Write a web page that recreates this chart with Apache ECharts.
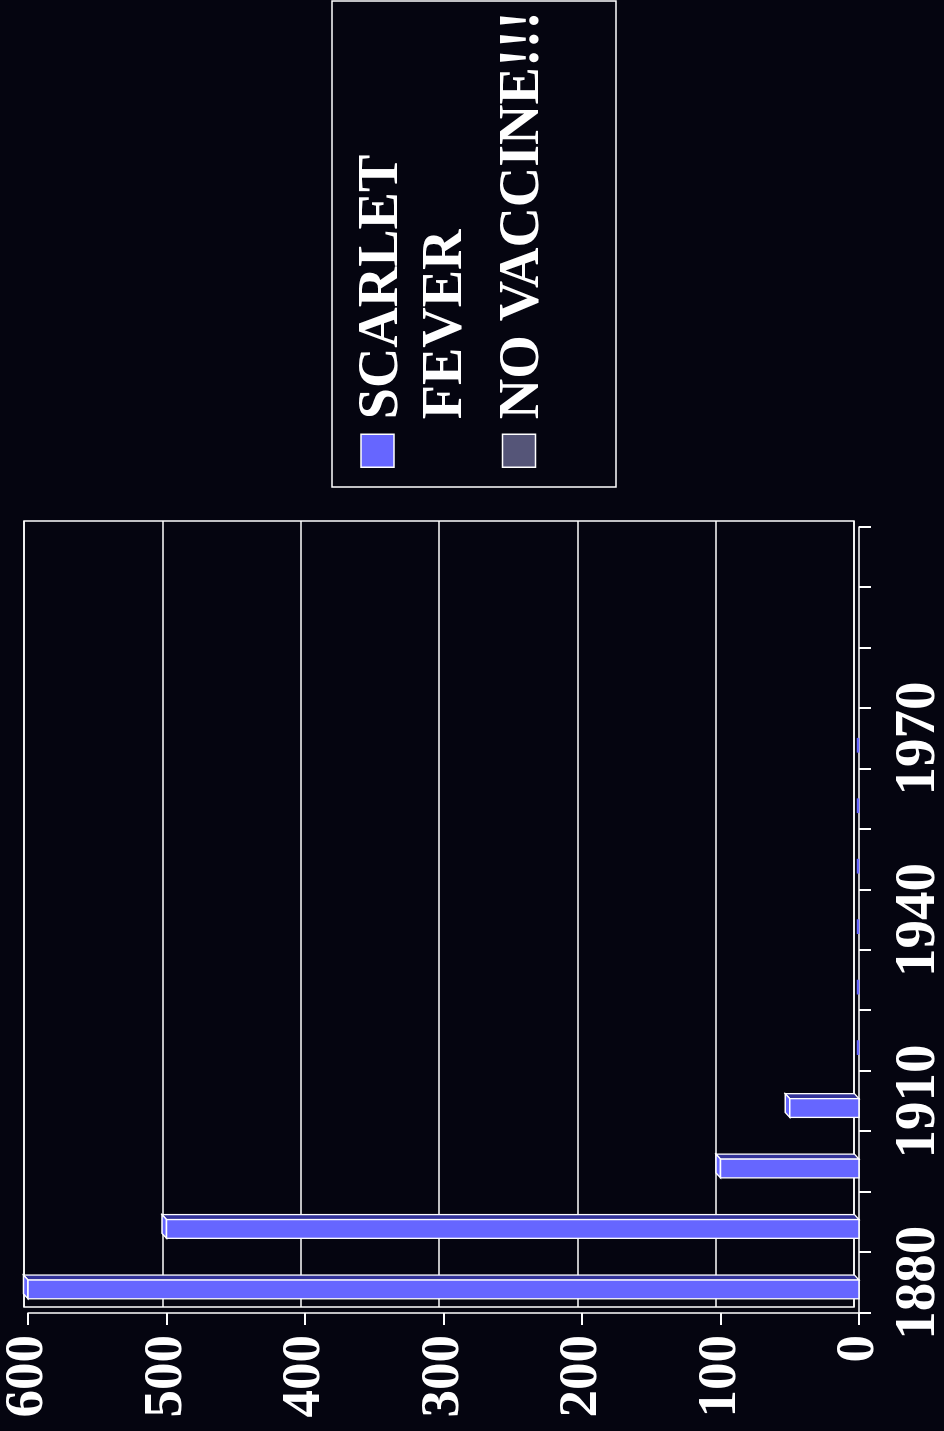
<!DOCTYPE html>
<html>
<head>
<meta charset="utf-8">
<title>Scarlet fever</title>
<script src="https://cdn.jsdelivr.net/npm/echarts@6/dist/echarts.min.js"></script>
<style>
  html, body { margin: 0; padding: 0; width: 944px; height: 1431px; overflow: hidden; background: #050510; }
  /* the chart is laid out landscape and turned a quarter turn to the left */
  #chart {
    position: absolute; left: 0; top: 0;
    width: 1431px; height: 944px;
    transform-origin: 0 0;
    transform: translateY(1431px) rotate(-90deg);
  }
</style>
</head>
<body>
<div id="chart"></div>
<script>
// data
var years = ['1880', '1890', '1900', '1910', '1920', '1930', '1940', '1950', '1960', '1970', '1980', '1990', '2000'];
var yearLabels = ['1880', '', '', '1910', '', '', '1940', '', '', '1970', '', '', ''];
var scarletFever = [600, 500, 100, 50, 0, 0, 0, 0, 0, 0, null, null, null];
var noVaccine = [];

var FONT = '"Liberation Serif", "Times New Roman", serif';
var WHITE = '#ffffff';
var FRONT = '#6666ff';
var SIDE = '#333399';
var DEPTH_X = 5, DEPTH_Y = -4.5;

function bar3d(params, api) {
    var cat = api.value(0);
    var val = api.value(1);
    var base = api.coord([cat, 0]);
    var top = api.coord([cat, val]);
    var band = api.size([1, 0])[0];
    var w = band * 0.31;
    var x0 = base[0] - band * 0.11 - w / 2;
    var x1 = x0 + w;
    var yb = base[1], yt = top[1];
    var st = { stroke: WHITE, lineWidth: 1.3 };
    if (val === 0) {
        return {
            type: 'line',
            shape: { x1: x0 + 2, y1: yb - 1, x2: x1 - 2, y2: yb - 1 },
            style: { stroke: FRONT, lineWidth: 2.5 }
        };
    }
    return {
        type: 'group',
        children: [
            {   // right side face
                type: 'polygon',
                shape: { points: [[x1, yb], [x1 + DEPTH_X, yb + DEPTH_Y], [x1 + DEPTH_X, yt + DEPTH_Y], [x1, yt]] },
                style: Object.assign({ fill: SIDE }, st)
            },
            {   // end face
                type: 'polygon',
                shape: { points: [[x0, yt], [x1, yt], [x1 + DEPTH_X, yt + DEPTH_Y], [x0 + DEPTH_X, yt + DEPTH_Y]] },
                style: Object.assign({ fill: FRONT }, st)
            },
            {   // front face
                type: 'rect',
                shape: { x: x0, y: yt, width: w, height: yb - yt },
                style: Object.assign({ fill: FRONT }, st)
            }
        ]
    };
}

var feverData = [];
for (var i = 0; i < years.length; i++) {
    if (scarletFever[i] != null) feverData.push([i, scarletFever[i]]);
}

var legendText = { color: WHITE, fontFamily: FONT, fontWeight: 'bold', fontSize: 56, lineHeight: 64 };

var option = {
    backgroundColor: '#050510',
    animation: false,
    legend: {
        orient: 'vertical',
        left: 963,
        top: 276.5,
        padding: 0,
        itemGap: 3.5,
        itemWidth: 33,
        itemHeight: 33,
        icon: 'rect',
        selectedMode: false,
        itemStyle: { borderColor: WHITE, borderWidth: 1.5 },
        // a spacer line on top keeps the first text line level with its swatch
        formatter: function (name) {
            if (name === 'SCARLET FEVER') return '{g|}\n{t|SCARLET}\n{t|FEVER}';
            return '{h|}\n{t|' + name + '}';
        },
        textStyle: {
            color: WHITE, fontFamily: FONT, fontWeight: 'bold', fontSize: 56, lineHeight: 64, padding: [0, 0, 0, 10],
            rich: {
                g: { fontSize: 8, lineHeight: 74 },
                h: { fontSize: 8, lineHeight: 10 },
                t: legendText
            }
        },
        data: ['SCARLET FEVER', 'NO VACCINE!!!']
    },
    graphic: [{
        type: 'rect',
        shape: { x: 944, y: 332, width: 486, height: 284 },
        style: { fill: null, stroke: WHITE, lineWidth: 1.5 }
    }],
    grid: [
        // front: axes, ticks, labels, bars
        { left: 118, right: 527, top: 28, bottom: 85, outerBoundsMode: 'none' },
        // back wall: gridlines
        { left: 124, right: 521, top: 24, bottom: 90, outerBoundsMode: 'none', show: true, borderColor: WHITE, borderWidth: 1.5, backgroundColor: 'transparent' }
    ],
    xAxis: [
        {
            type: 'category', gridIndex: 0, data: years,
            axisLine: { show: true, lineStyle: { color: WHITE, width: 1.5 } },
            axisTick: { show: true, inside: false, interval: 0, length: 12, lineStyle: { color: WHITE, width: 2 } },
            axisLabel: {
                interval: 0, margin: 32, color: WHITE, fontFamily: FONT, fontWeight: 'bold', fontSize: 57,
                formatter: function (v, idx) { return yearLabels[idx]; }
            }
        },
        {
            type: 'category', gridIndex: 1, data: years,
            axisLine: { show: false }, axisTick: { show: false }, axisLabel: { show: false }
        }
    ],
    yAxis: [
        {
            type: 'value', gridIndex: 0, min: 0, max: 600, interval: 100,
            axisLine: { show: true, lineStyle: { color: WHITE, width: 1.5 } },
            axisTick: { show: true, inside: false, length: 12, lineStyle: { color: WHITE, width: 2 } },
            splitLine: { show: false },
            axisLabel: { margin: 22, color: WHITE, fontFamily: FONT, fontWeight: 'bold', fontSize: 55 }
        },
        {
            type: 'value', gridIndex: 1, min: 0, max: 600, interval: 100,
            axisLine: { show: false }, axisTick: { show: false }, axisLabel: { show: false },
            splitLine: { show: true, lineStyle: { color: WHITE, width: 1.5 } }
        }
    ],
    series: [
        {
            name: 'SCARLET FEVER',
            type: 'custom',
            xAxisIndex: 0, yAxisIndex: 0,
            itemStyle: { color: FRONT },
            renderItem: bar3d,
            encode: { x: 0, y: 1 },
            data: feverData,
            z: 5
        },
        {
            name: 'NO VACCINE!!!',
            type: 'custom',
            xAxisIndex: 0, yAxisIndex: 0,
            itemStyle: { color: '#555578' },
            renderItem: bar3d,
            data: noVaccine
        }
    ]
};

var myChart = echarts.init(document.getElementById('chart'));
myChart.setOption(option);
</script>
</body>
</html>
